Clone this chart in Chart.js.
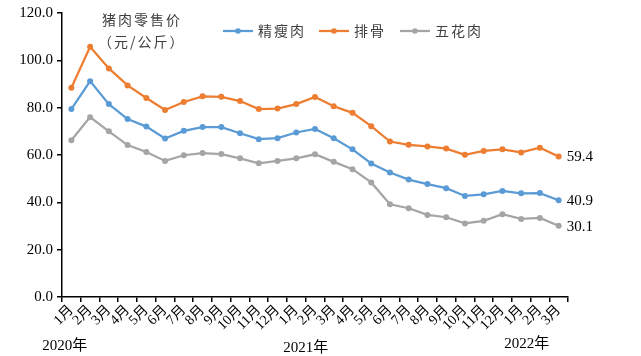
<!DOCTYPE html>
<html>
<head>
<meta charset="utf-8">
<script src="https://cdn.jsdelivr.net/npm/chart.js@4/dist/chart.umd.min.js"></script>
<style>
html,body{margin:0;padding:0;background:#fff;}
#wrap{width:641px;height:356px;position:relative;}
</style>
</head>
<body>
<div id="wrap"><canvas id="c" width="641" height="356"></canvas></div>
<script>
const categories = ['1月','2月','3月','4月','5月','6月','7月','8月','9月','10月','11月','12月',
                    '1月','2月','3月','4月','5月','6月','7月','8月','9月','10月','11月','12月',
                    '1月','2月','3月'];
const leanPork = [79.4,91.2,81.5,75.2,72.0,67.0,70.2,71.8,71.8,69.2,66.7,67.1,
                  69.5,71.0,67.1,62.4,56.4,52.6,49.6,47.7,46.0,42.7,43.4,44.8,
                  43.8,43.9,40.9];
const ribs     = [88.4,105.7,96.6,89.4,84.1,79.0,82.4,84.8,84.6,82.8,79.4,79.6,
                  81.5,84.5,80.6,77.8,72.2,65.7,64.3,63.6,62.7,60.1,61.7,62.4,
                  61.1,63.1,59.4];
const belly    = [66.2,76.0,70.0,64.2,61.3,57.5,59.9,60.8,60.4,58.6,56.5,57.5,
                  58.6,60.3,57.1,54.0,48.4,39.2,37.5,34.7,33.7,31.1,32.2,35.0,
                  33.0,33.4,30.1];
const seriesNames = ['精瘦肉','排骨','五花肉'];
const seriesColors = ['#5B9BD5','#ED7D31','#A5A5A5'];
const yearLabels = ['2020年','2021年','2022年'];
const yearIndex = [0,12,24];
const titleLines = ['猪肉零售价','（元/公斤）'];
const yMin = 0, yMax = 120, yStep = 20;

const serif = "'Liberation Serif','Noto Sans CJK SC',serif";
const cjk = "'Noto Sans CJK SC','Noto Sans',sans-serif";

const extras = {
  id:'extras',
  afterDraw(chart){
    const ctx = chart.ctx, xs = chart.scales.x, ys = chart.scales.y;
    ctx.save();
    // title
    ctx.fillStyle = '#404040';
    ctx.font = "14px " + cjk;
    ctx.textBaseline = 'middle';
    ctx.textAlign = 'left';
    if ('letterSpacing' in ctx) ctx.letterSpacing = '2px';
    ctx.fillText(titleLines[0], 102, 20);
    ctx.fillText(titleLines[1], 98, 42);
    // legend
    const lx = [223, 319, 400];
    seriesNames.forEach((n,i)=>{
      ctx.strokeStyle = seriesColors[i];
      ctx.lineWidth = 2.25;
      ctx.beginPath(); ctx.moveTo(lx[i],31); ctx.lineTo(lx[i]+30,31); ctx.stroke();
      ctx.fillStyle = seriesColors[i];
      ctx.beginPath(); ctx.arc(lx[i]+15,31,2.8,0,Math.PI*2); ctx.fill();
      ctx.fillStyle = '#404040';
      ctx.font = "14px " + cjk;
      ctx.fillText(n, lx[i]+35, 31);
    });
    if ('letterSpacing' in ctx) ctx.letterSpacing = '0px';
    // end labels
    const data = [leanPork, ribs, belly];
    ctx.fillStyle = '#000';
    ctx.font = "15px " + serif;
    const last = categories.length-1;
    data.forEach(d=>{
      const x = xs.getPixelForValue(last) + 8;
      const y = ys.getPixelForValue(d[last]);
      ctx.fillText(d[last].toFixed(1), x, y+1);
    });
    // year labels
    ctx.font = "15px " + serif;
    const yOff = [-29, -13, -17];
    const yy = [346, 348, 344];
    yearLabels.forEach((t,i)=>{
      ctx.fillText(t, xs.getPixelForValue(yearIndex[i]) + yOff[i], yy[i]);
    });
    ctx.restore();
  }
};

new Chart(document.getElementById('c'), {
  type:'line',
  data:{
    labels:categories,
    datasets:[leanPork, ribs, belly].map((d,i)=>({
      label:seriesNames[i],
      data:d,
      borderColor:seriesColors[i],
      backgroundColor:seriesColors[i],
      borderWidth:2.25,
      pointRadius:3,
      pointHoverRadius:3,
      pointBorderWidth:0,
      tension:0,
      fill:false
    }))
  },
  options:{
    responsive:false,
    animation:false,
    events:[],
    layout:{padding:{left:10,right:73,top:6,bottom:0}},
    plugins:{legend:{display:false},tooltip:{enabled:false},title:{display:false}},
    scales:{
      x:{
        offset:true,
        grid:{display:true,offset:true,drawOnChartArea:false,drawTicks:true,tickLength:5,color:'#000',lineWidth:1.5},
        border:{display:true,color:'#000',width:1.5},
        ticks:{color:'#000',font:{family:serif,size:14},maxRotation:45,minRotation:45,autoSkip:false,padding:0},
        afterFit(s){ s.height = 59; }
      },
      y:{
        min:yMin,max:yMax,
        grid:{display:true,drawOnChartArea:false,drawTicks:true,tickLength:5,color:'#000',lineWidth:1.5},
        border:{display:true,color:'#000',width:1.5},
        ticks:{stepSize:yStep,color:'#000',font:{family:serif,size:15},padding:4,callback:v=>Number(v).toFixed(1)},
        afterFit(s){ s.width = 52; }
      }
    }
  },
  plugins:[extras]
});
</script>
</body>
</html>
